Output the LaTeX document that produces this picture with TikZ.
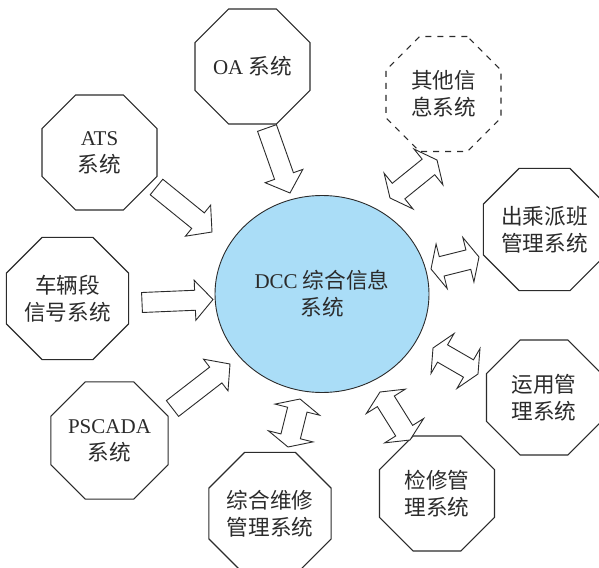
\documentclass[tikz,border=0pt]{standalone}
\usepackage{fontspec}
\setmainfont{Liberation Serif}
\newfontfamily\cjk[Scale=1.03]{Noto Sans CJK SC}
\usetikzlibrary{shapes.geometric,calc}
\newcommand\zh[1]{{\cjk #1}}
\definecolor{skyfill}{HTML}{AADDF7}
\definecolor{inkc}{HTML}{2B2B2B}
% single block arrow: tail centre #1, tip #2
\newcommand\sarr[2]{%
  \path ($(#2)!18pt!(#1)$) coordinate (hbx);
  \draw[blk] ($(#1)!10pt!90:(#2)$) -- ($(hbx)!10pt!90:(#2)$) -- ($(hbx)!20pt!90:(#2)$) -- (#2)
    -- ($(hbx)!20pt!-90:(#2)$) -- ($(hbx)!10pt!-90:(#2)$) -- ($(#1)!10pt!-90:(#2)$) -- cycle;}
% double block arrow: tip #1, tip #2
\newcommand\darr[2]{%
  \path ($(#1)!11pt!(#2)$) coordinate (hax) ($(#2)!11pt!(#1)$) coordinate (hbx);
  \draw[blk] (#1) -- ($(hax)!23pt!90:(#2)$) -- ($(hax)!10pt!90:(#2)$) -- ($(hbx)!10pt!90:(#2)$)
    -- ($(hbx)!23pt!90:(#2)$) -- (#2) -- ($(hbx)!23pt!-90:(#2)$) -- ($(hbx)!10pt!-90:(#2)$)
    -- ($(hax)!10pt!-90:(#2)$) -- ($(hax)!23pt!-90:(#2)$) -- cycle;}
\begin{document}
\begin{tikzpicture}[x=1pt,y=-1pt,
  oct/.style={regular polygon, regular polygon sides=8, minimum size=124.5pt, inner sep=0pt,
    draw=inkc, line width=1.1pt, align=center, font=\fontsize{21}{27}\selectfont, text=inkc},
  dashoct/.style={oct, dash pattern=on 6pt off 6pt},
  hub/.style={ellipse, minimum width=214pt, minimum height=197pt, inner sep=0pt, fill=skyfill,
    draw=inkc, line width=0.9pt, align=center, font=\fontsize{21}{27}\selectfont, text=inkc},
  blk/.style={draw=inkc, fill=white, line width=0.9pt, line join=miter}]
\useasboundingbox (0,0) rectangle (599,567);

\node[hub] (dcc) at (322,294) {DCC \zh{综合信息}\\\zh{系统}};

\node[oct] (oa) at (252.5,66.5) {OA \zh{系统}};
\node[oct] (ats) at (99.5,152.5) {ATS\\\zh{系统}};
\node[oct] (cld) at (67.5,298.5) {\zh{车辆段}\\\zh{信号系统}};
\node[oct] (psc) at (109.5,440.5) {PSCADA\\\zh{系统}};
\node[oct] (zhwx) at (270,513.5) {\zh{综合维修}\\\zh{管理系统}};
\node[oct] (jx) at (437,493.5) {\zh{检修管}\\\zh{理系统}};
\node[oct] (yy) at (544,397.5) {\zh{运用管}\\\zh{理系统}};
\node[oct] (ccpb) at (544.5,229.5) {\zh{出乘派班}\\\zh{管理系统}};
\node[dashoct] (qt) at (443.5,94) {\zh{其他信}\\\zh{息系统}};

% arrow end points
\coordinate (oaT) at (267,128);   \coordinate (oaH) at (290,193);
\coordinate (atsT) at (156.5,187); \coordinate (atsH) at (212,232);
\coordinate (cldT) at (142,302.5); \coordinate (cldH) at (213,299.5);
\coordinate (pscT) at (172.5,408.5); \coordinate (pscH) at (230,364);
\coordinate (qtA) at (390,198);  \coordinate (qtB) at (437,160);
\coordinate (ccA) at (431,269);  \coordinate (ccB) at (479,257);
\coordinate (yyA) at (433,348);  \coordinate (yyB) at (478,374);
\coordinate (jxA) at (380,392);  \coordinate (jxB) at (410,440);
\coordinate (zwA) at (300,399);  \coordinate (zwB) at (288,447);

\sarr{oaT}{oaH}
\sarr{atsT}{atsH}
\sarr{cldT}{cldH}
\sarr{pscT}{pscH}
\darr{qtA}{qtB}
\darr{ccA}{ccB}
\darr{yyA}{yyB}
\darr{jxA}{jxB}
\darr{zwA}{zwB}
\end{tikzpicture}
\end{document}
